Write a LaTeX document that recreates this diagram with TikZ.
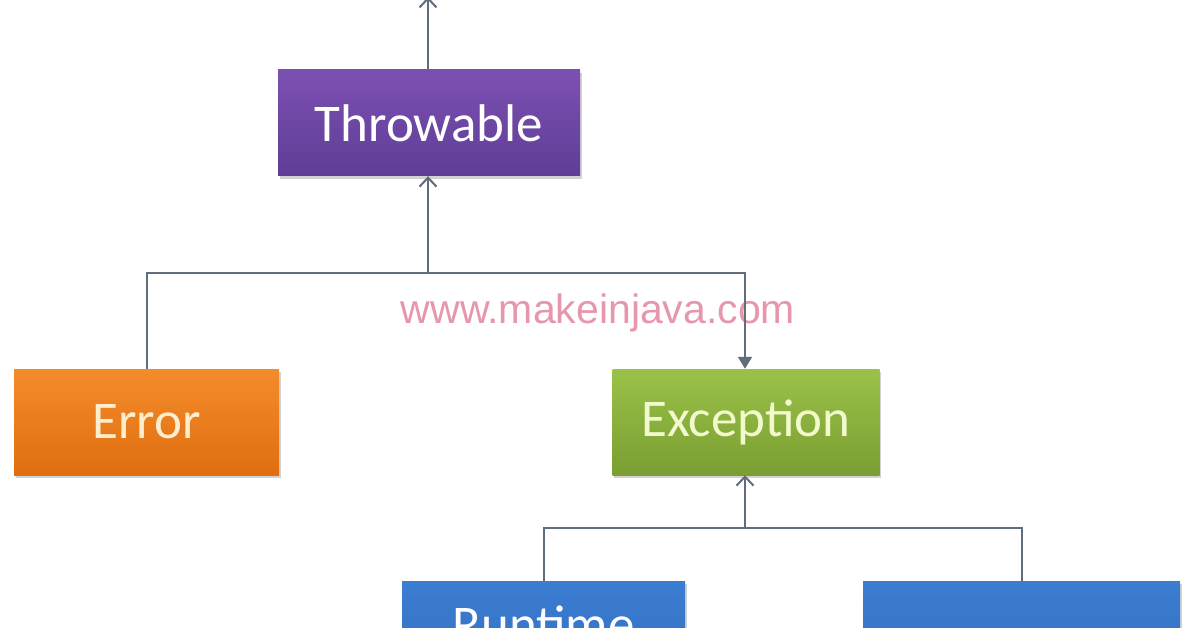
\documentclass[tikz,border=0pt]{standalone}
\usepackage{fontspec}
\setmainfont{Carlito}
\newfontfamily\wmfont{Liberation Sans}
\usetikzlibrary{arrows.meta,shadows,positioning}
\definecolor{linec}{HTML}{626D7C}
\definecolor{purpT}{HTML}{7C50B2}
\definecolor{purpB}{HTML}{5F3D96}
\definecolor{oranT}{HTML}{F48C2C}
\definecolor{oranB}{HTML}{E06E10}
\definecolor{greeT}{HTML}{9AC248}
\definecolor{greeB}{HTML}{7A9E32}
\definecolor{blueT}{HTML}{3C7DD2}
\definecolor{blueB}{HTML}{306CBA}
\definecolor{wmc}{HTML}{E697AC}
\tikzset{
  box/.style={rectangle, minimum height=106pt, inner sep=0pt, font=\fontsize{53}{60}\selectfont,
    drop shadow={opacity=0.35, shadow xshift=1.5pt, shadow yshift=-3pt}},
  conn/.style={draw=linec, line width=2pt},
  barb/.style={-{Straight Barb[length=9pt,width=17pt,line width=2pt]}},
  tri/.style={-{Triangle[length=12pt,width=14pt]}},
}
\begin{document}
\begin{tikzpicture}[x=1pt,y=-1pt]
\useasboundingbox (0,0) rectangle (1196,628);
\clip (0,0) rectangle (1196,628);
\fill[white] (0,0) rectangle (1196,628);
% watermark
\node[font=\wmfont\fontsize{41}{48}\selectfont, text=wmc, inner sep=0pt, anchor=base] (wm) at (598,323) {www.makeinjava.com};
% nodes
\node[box, minimum width=302pt, top color=purpT, bottom color=purpB, text=white] (thr) at (429,123) {Throwable};
\node[box, minimum width=265pt, top color=oranT, bottom color=oranB, text={rgb,255:red,255;green,238;blue,205}] (err) at (146.5,422) {Error};
\node[box, minimum width=267pt, top color=greeT, bottom color=greeB, text={rgb,255:red,242;green,250;blue,205}] (exc) at (746,422) {Exception};
\node[box, minimum width=283pt, minimum height=120pt, top color=blueT, bottom color=blueB, anchor=north] (rt) at (543.5,581) {};
\node[box, minimum width=317pt, minimum height=120pt, top color=blueT, bottom color=blueB, anchor=north] (oth) at (1021.5,581) {};
\node[font=\fontsize{53}{60}\selectfont, text=white, inner sep=0pt, anchor=base] (rtlabel) at (543.5,642) {Runtime};
% connectors
\coordinate (top) at (428,-3);
\coordinate (bus1) at (428,273);
\coordinate (bus2) at (745,528);
\draw[conn, barb] (top |- thr.north) -- (top);
\draw[conn, barb] (bus1) -- (bus1 |- thr.south);
\draw[conn] (err.north) |- (bus1);
\draw[conn, tri] (bus1) -| (bus2 |- exc.north);
\draw[conn, barb] (bus2) -- (bus2 |- exc.south);
\draw[conn] (rt.north) |- (bus2) -| (oth.north);
\end{tikzpicture}
\end{document}
